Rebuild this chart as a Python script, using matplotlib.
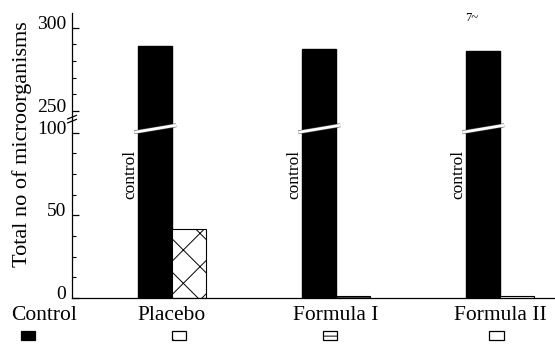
import numpy as np
import matplotlib
matplotlib.use('Agg')
import matplotlib.pyplot as plt
import matplotlib.transforms as mtransforms
import matplotlib.patheffects as pe
from matplotlib.patches import Rectangle

plt.rcParams['font.family'] = ['Liberation Serif', 'DejaVu Serif']
plt.rcParams['hatch.linewidth'] = 0.7

# data
groups = ['Placebo', 'Formula I', 'Formula II']
control_vals = [289, 287, 286]
treated_vals = [42, 1.5, 1.0]
treated_hatch = ['x', '---', '']
key_labels = ['Control', 'Placebo', 'Formula I', 'Formula II']
key_face = ['black', 'white', 'white', 'white']
key_hatch = ['', 'x', '---', '']
y_major = [0, 50, 100, 250, 300]
y_minor = [12.5, 25, 37.5, 62.5, 75, 87.5, 260, 270, 280, 290]

# broken y axis: 100..250 squeezed into a small gap
GAP = 13.3


def fwd(v):
    v = np.asarray(v, float)
    return np.where(v <= 100, v,
                    np.where(v >= 250, v - 150 + GAP, 100 + (v - 100) * GAP / 150))


def inv(u):
    u = np.asarray(u, float)
    return np.where(u <= 100, u,
                    np.where(u >= 100 + GAP, u + 150 - GAP, 100 + (u - 100) * 150 / GAP))


fig = plt.figure(figsize=(5.55, 3.47), dpi=100)
ax = fig.add_axes([72 / 555, 49 / 347, 483 / 555, 285 / 347])
ax.set_yscale('function', functions=(fwd, inv))
ax.set_ylim(0, 309)
ax.set_xlim(-0.61, 2.335)

w = 0.205
x = np.arange(len(groups))
ax.bar(x - w / 2, control_vals, w, color='black', edgecolor='black', zorder=2)
for xi, v, h in zip(x, treated_vals, treated_hatch):
    ax.bar(xi + w / 2, v, w, color='white', edgecolor='black', hatch=h,
           linewidth=0.8, zorder=2)

# break bands across the control bars
for xi in x:
    ax.plot([xi - w - 0.025, xi + 0.025], [102, 150], color='white', lw=2.0,
            solid_capstyle='butt', zorder=3,
            path_effects=[pe.Stroke(linewidth=2.8, foreground='0.3'), pe.Normal()])
    ax.text(xi - 0.255, 75, 'control', rotation=90, ha='center', va='center',
            fontsize=12.5)

# y-axis break marks
bt = mtransforms.blended_transform_factory(ax.transAxes, ax.transData)
for yb in (178, 205):
    ax.plot([-0.009, 0.009], [yb - 12, yb + 12], color='black', lw=0.9,
            transform=bt, clip_on=False, zorder=4)

ax.set_yticks(y_major)
ax.set_yticks(y_minor, minor=True)
ax.set_yticklabels([str(v) for v in y_major])
ax.set_xticks([])
ax.tick_params(axis='y', which='major', direction='in', length=5, width=0.9,
               labelsize=14, pad=4)
ax.tick_params(axis='y', which='minor', direction='in', length=3, width=0.8)
lift = mtransforms.ScaledTranslation(0, 4 / 72, fig.dpi_scale_trans)
for lbl in ax.get_yticklabels():
    lbl.set_transform(lbl.get_transform() + lift)
for s in ('top', 'right'):
    ax.spines[s].set_visible(False)
ax.spines['left'].set_linewidth(0.9)
ax.spines['bottom'].set_linewidth(0.9)

ax.set_ylabel('Total no of microorganisms', fontsize=16)
ax.yaxis.set_label_coords(-40 / 483, 0.54)

# category labels with key boxes underneath
lx = [-0.78] + list(x.astype(float))
kx = [-0.878, 0.043, 0.963, 1.976]
tb = mtransforms.blended_transform_factory(ax.transData, ax.transAxes)
for lab, px, kxi, fc, h in zip(key_labels, lx, kx, key_face, key_hatch):
    ax.text(px, -0.062, lab, ha='center', va='center', fontsize=15.5,
            transform=tb, clip_on=False)
    ax.add_patch(Rectangle((kxi - 0.045, -0.148), 0.09, 0.032, transform=tb,
                           facecolor=fc, edgecolor='black', hatch=h, lw=0.9,
                           clip_on=False))

fig.text(472 / 555, 1 - 18 / 347, '7~', fontsize=9, ha='center', va='center')

fig.savefig('out.png', dpi=100)
